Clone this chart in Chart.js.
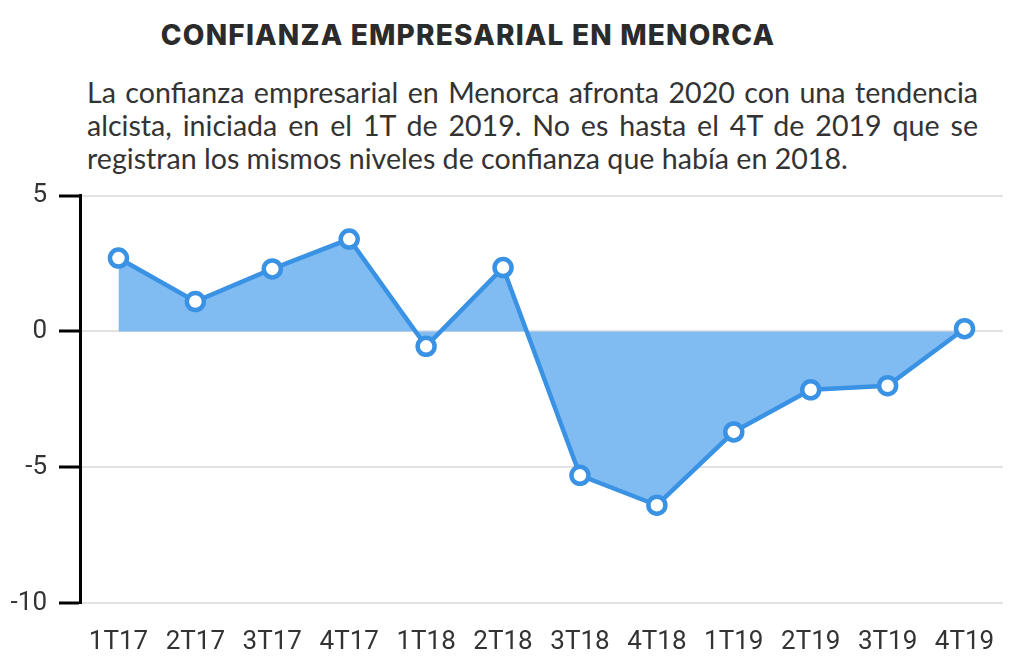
<!DOCTYPE html>
<html>
<head>
<meta charset="utf-8">
<script src="https://cdn.jsdelivr.net/npm/chart.js@4/dist/chart.umd.min.js"></script>
<style>
  body { margin: 0; background: #fff; width: 1024px; height: 661px; overflow: hidden; position: relative; }
  .titulo { position: absolute; top: 18px; left: 0; width: 936px; text-align: center;
    font-family: Inter, "Open Sans", sans-serif; font-weight: 800; font-size: 28px; color: #2b2b2b; letter-spacing: 1.2px; }
  .texto { position: absolute; top: 76px; left: 87px; width: 891px;
    font-family: Lato, sans-serif; font-size: 28.6px; line-height: 33px; color: #333; }
  .texto div { text-align: justify; text-align-last: justify; white-space: nowrap; }
  .texto div.fin { text-align-last: left; }
  .caja { position: absolute; left: 0; top: 168px; width: 1024px; height: 493px; }
</style>
</head>
<body>
<div class="titulo">CONFIANZA EMPRESARIAL EN MENORCA</div>
<div class="texto">
  <div>La confianza empresarial en Menorca afronta 2020 con una tendencia</div>
  <div>alcista, iniciada en el 1T de 2019. No es hasta el 4T de 2019 que se</div>
  <div class="fin">registran los mismos niveles de confianza que había en 2018.</div>
</div>
<div class="caja"><canvas id="grafico"></canvas></div>
<script>
var trimestres = ['1T17', '2T17', '3T17', '4T17', '1T18', '2T18', '3T18', '4T18', '1T19', '2T19', '3T19', '4T19']
var confianza = [2.7, 1.1, 2.3, 3.4, -0.55, 2.35, -5.3, -6.4, -3.7, -2.15, -2.0, 0.1]
var ejeY = [5, 0, -5, -10]

const datos = {
    labels: trimestres,
    datasets: [{
        label: 'Confianza',
        data: confianza,
        borderColor: '#3a92e4',
        backgroundColor: '#80bcf2',
        borderWidth: 4.5,
        fill: 'origin',
        tension: 0,
        pointRadius: 8.5,
        pointBorderWidth: 4.5,
        pointBackgroundColor: '#fff',
        pointBorderColor: '#3a92e4',
    }]
};

const config = {
    type: 'line',
    data: datos,
    options: {
        responsive: true,
        maintainAspectRatio: false,
        animation: false,
        layout: { padding: { top: 5, right: 21, left: 0, bottom: 0 } },
        plugins: { legend: { display: false }, tooltip: { enabled: false } },
        scales: {
            x: {
                offset: true,
                grid: { display: false },
                border: { display: false },
                ticks: { color: '#333', font: { family: 'Roboto', size: 26 }, padding: 16, maxRotation: 0, autoSkip: false },
                afterFit: function (eje) { eje.height = 58 }
            },
            y: {
                min: -10,
                max: 5,
                afterBuildTicks: function (eje) { eje.ticks = ejeY.map(function (v) { return { value: v } }) },
                grid: { color: '#e2e2e2', lineWidth: 2, tickColor: '#000', tickLength: 21, tickWidth: 3 },
                border: { display: true, color: '#000', width: 3 },
                ticks: { color: '#333', font: { family: 'Roboto', size: 26 }, padding: 12 },
                afterFit: function (eje) { eje.width = 80 }
            }
        }
    }
};

const miGrafico = new Chart(document.getElementById('grafico'), config);
</script>
</body>
</html>
